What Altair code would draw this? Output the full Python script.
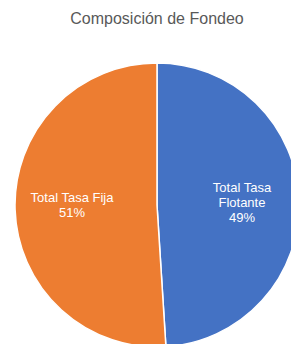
import altair as alt
import pandas as pd

categories = ["Total Tasa Flotante", "Total Tasa Fija"]
values = [49, 51]
label_lines = [["Total Tasa", "Flotante", "49%"], ["Total Tasa Fija", "51%"]]
colors = ["#4472C4", "#ED7D31"]
title_text = "Composición de Fondeo"

df = pd.DataFrame({
    "cat": categories,
    "val": values,
    "ord": list(range(len(categories))),
    "label": ["\n".join(l) for l in label_lines],
})

base = alt.Chart(df).encode(
    theta=alt.Theta("val:Q", stack=True),
    order=alt.Order("ord:Q"),
)

arcs = base.mark_arc(outerRadius=142, stroke="white", strokeWidth=1.5).encode(
    color=alt.Color("cat:N", scale=alt.Scale(domain=categories, range=colors), legend=None)
)

def label_layer(cat, dy):
    return base.mark_text(
        radius=85, fontSize=13, font="Liberation Sans", color="white",
        lineBreak="\n", lineHeight=15, align="center", baseline="middle", dy=dy
    ).encode(
        text="label:N",
        opacity=alt.condition(alt.datum.cat == cat, alt.value(1), alt.value(0)),
    )

labels_flot = label_layer(categories[0], -14)
labels_fija = label_layer(categories[1], -10)

title = alt.Chart(pd.DataFrame({"t": [title_text]})).mark_text(
    fontSize=16, font="Liberation Sans", color="#595959", align="center", baseline="alphabetic"
).encode(text="t:N", x=alt.value(134), y=alt.value(-42))

chart = alt.layer(arcs, labels_flot, labels_fija, title).properties(
    width=268, height=278,
    padding={"left": 15, "top": 58, "right": 0, "bottom": 0},
    autosize=alt.AutoSizeParams(type="none"),
).configure_view(stroke=None)

chart.save("out.html", embed_options={"renderer": "svg", "actions": False})
